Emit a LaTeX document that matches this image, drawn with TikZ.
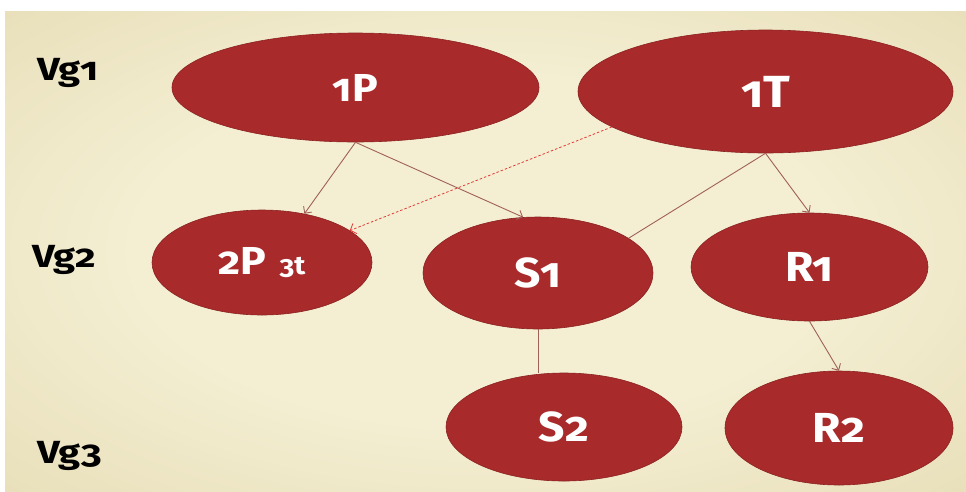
\documentclass[tikz,border=0pt]{standalone}
\usepackage{fontspec}
\setmainfont{Fira Sans}[Numbers=OldStyle]
\usetikzlibrary{shapes.geometric,arrows.meta}
\definecolor{bgin}{HTML}{F4EFD3}
\definecolor{bgmid}{HTML}{DFD2A6}
\definecolor{bgout}{HTML}{C8B788}
\definecolor{nodefill}{HTML}{A82A2A}
\definecolor{nodeedge}{HTML}{8C2222}
\definecolor{linkcol}{HTML}{A0605A}
\definecolor{dashcol}{HTML}{E33B36}
\pgfdeclareradialshading{bgshade}{\pgfpoint{0bp}{0bp}}{color(0bp)=(bgin); color(18bp)=(bgin); color(50bp)=(bgmid); color(71bp)=(bgout)}
\tikzset{
  blob/.style={ellipse, fill=nodefill, draw=nodeedge, line width=0.6pt, inner sep=0pt,
    text=white, font=\bfseries\addfontfeatures{FakeStretch=1.1}\fontsize{39}{42}\selectfont},
  bigtext/.style={font=\bfseries\addfontfeatures{FakeStretch=1.1}\fontsize{42}{45}\selectfont},
  level/.style={anchor=base west, text=black, inner sep=0pt,
    font=\bfseries\addfontfeatures{FakeStretch=1.25}\fontsize{32}{36}\selectfont},
  link/.style={draw=linkcol, line width=0.9pt},
  linkarrow/.style={link, -{Straight Barb[length=5pt,width=10pt]}},
  hint/.style={draw=dashcol, line width=0.8pt, dash pattern=on 2.5pt off 2pt,
    -{Straight Barb[length=5pt,width=11pt]}}
}
\begin{document}
\begin{tikzpicture}[x=1pt,y=-1pt]
\useasboundingbox (0,0) rectangle (966,491);
\fill[white] (0,0) rectangle (966,491);
\shade[shading=bgshade] (5,11) rectangle (966,491);

\node[level] (vg1) at (37,80) {Vg1};
\node[level] (vg2) at (32,267) {Vg2};
\node[level] (vg3) at (37,463) {Vg3};

\node[blob, minimum width=367pt, minimum height=109pt] (p1) at (355.5,87.5) {1P};
\node[blob, minimum width=375pt, minimum height=123pt, font=\bfseries\addfontfeatures{FakeStretch=1.1}\fontsize{45}{48}\selectfont] (t1) at (765.5,91.5) {1T};
\node[blob, minimum width=220pt, minimum height=105pt] (p2) at (262,262.5) {2P\,\,{\fontsize{26}{28}\selectfont 3t}};
\node[blob, bigtext, minimum width=230pt, minimum height=112pt] (s1) at (538,273) {S1};
\node[blob, bigtext, minimum width=237pt, minimum height=108pt] (r1) at (809.5,267) {R1};
\node[blob, bigtext, minimum width=236pt, minimum height=108pt] (s2) at (564,427) {S2};
\node[blob, bigtext, minimum width=228pt, minimum height=114pt] (r2) at (839,428) {R2};

\draw[linkarrow] (p1.south) -- (p2.49);
\draw[linkarrow] (p1.south) -- (s1.105);
\draw[linkarrow] (t1.south) -- (r1.north);
\draw[link] (t1.south) -- (s1.21);
\draw[hint] (t1.193) -- (p2.20);
\draw[link] (s1.south) -- (s1.south |- s2.north);
\draw[linkarrow] (r1.south) -- (r2.north);
\end{tikzpicture}
\end{document}
